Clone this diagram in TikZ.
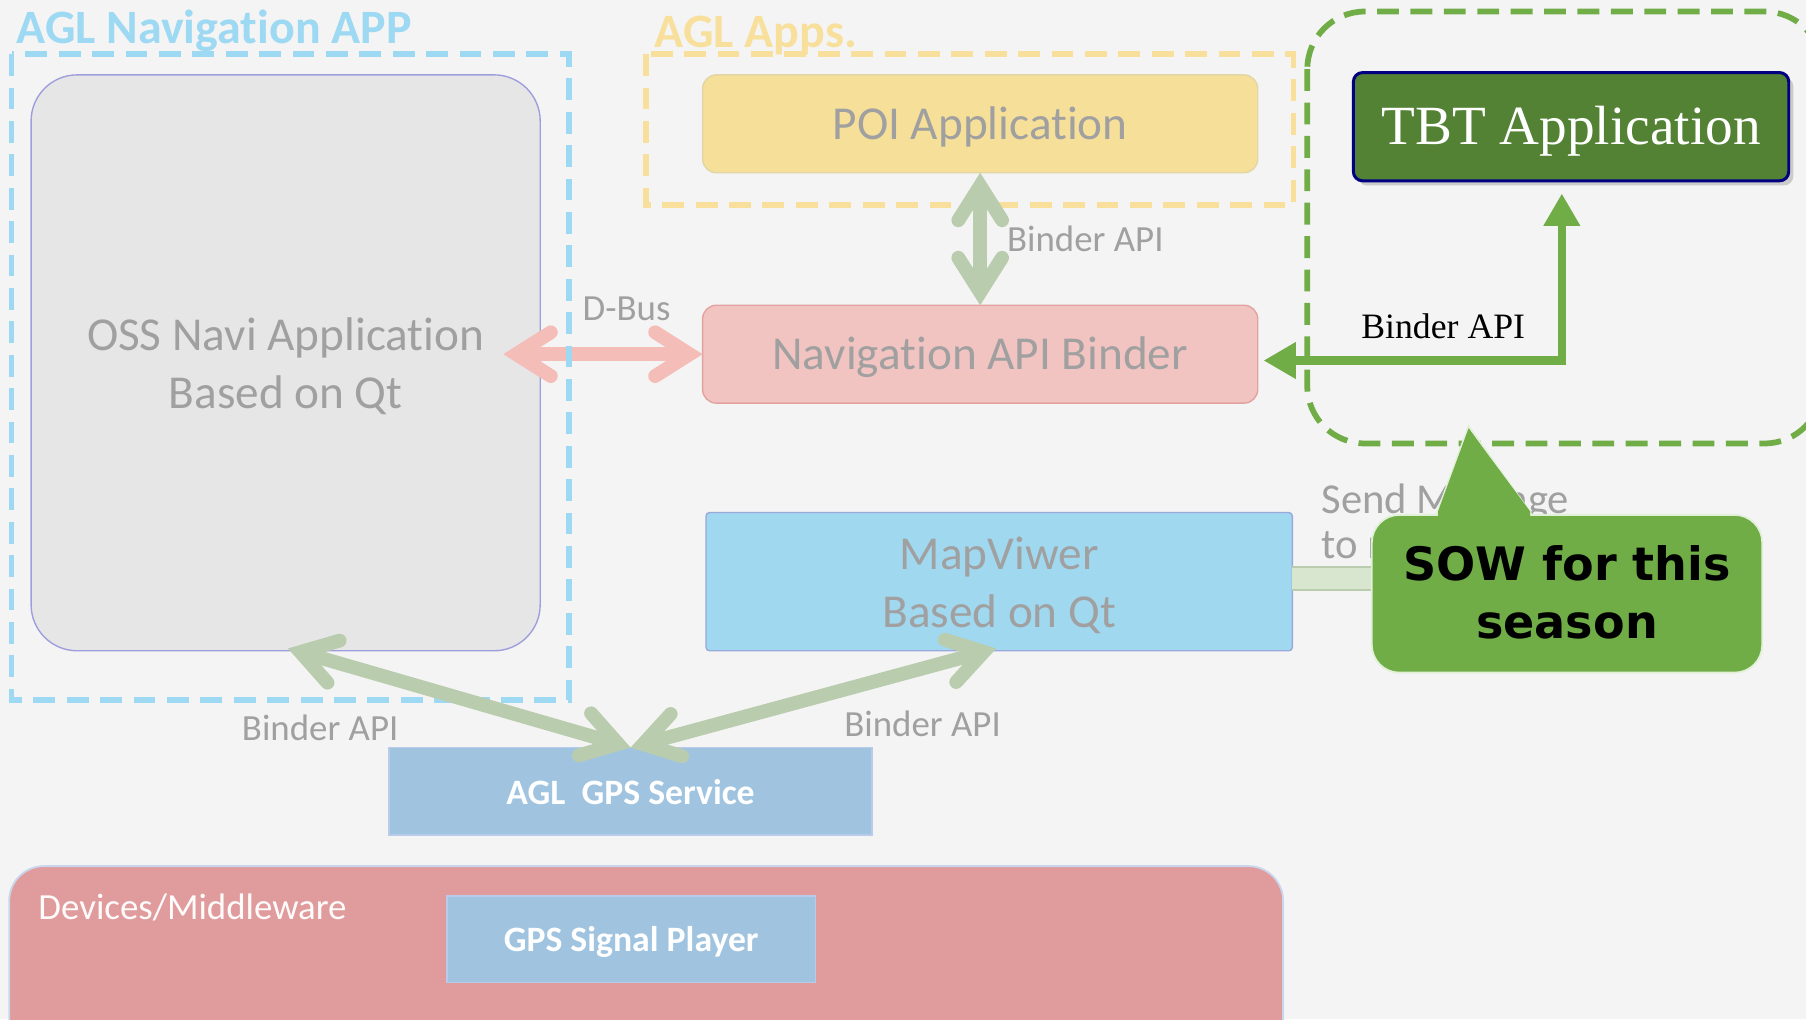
\documentclass[tikz,border=0pt]{standalone}
\usepackage{fontspec}
\setmainfont{Carlito}[Ligatures=NoCommon]
\newfontfamily\serifA{Liberation Serif}
\newfontfamily\dejaB{DejaVu Sans}
\usetikzlibrary{arrows.meta,shadows}
\definecolor{bgc}{HTML}{F4F4F4}
\definecolor{navblue}{HTML}{9DD9F2}
\definecolor{appyel}{HTML}{F8E09C}
\definecolor{poiy}{HTML}{F5DF99}
\definecolor{poib}{HTML}{E2D6A6}
\definecolor{sowg}{HTML}{70AD47}
\definecolor{sowb}{HTML}{E2F0D9}
\definecolor{tbtg}{HTML}{548235}
\definecolor{tbtb}{HTML}{000080}
\definecolor{paleg}{HTML}{B9CCAE}
\definecolor{paleg2}{HTML}{D9E6CF}
\definecolor{pinka}{HTML}{F4BDB8}
\definecolor{navpink}{HTML}{F2C4C1}
\definecolor{navpinkb}{HTML}{E2A2A0}
\definecolor{mapb}{HTML}{A0D8F0}
\definecolor{mapbb}{HTML}{9AA8DC}
\definecolor{gpsb}{HTML}{A0C4DF}
\definecolor{gpsbb}{HTML}{B8CBE8}
\definecolor{devr}{HTML}{E09B9D}
\definecolor{devb}{HTML}{C9D7EE}
\definecolor{txtg}{HTML}{A0A0A0}
\definecolor{ossg}{HTML}{E6E6E6}
\definecolor{ossb}{HTML}{9E9EDD}
\begin{document}
\begin{tikzpicture}[x=0.5pt,y=-0.5pt,
  box/.style={draw, inner sep=0pt, outer sep=0pt},
  boxtxt/.style={inner sep=0pt, align=center, text=txtg, font=\fontsize{20.5}{25}\selectfont},
  solidtxt/.style={inner sep=0pt, align=center, text=white, font=\bfseries\fontsize{15.5}{19}\selectfont},
  fatarrow/.style={line width=6pt, line cap=round, line join=round,
    {Straight Barb[length=15pt,width=19pt,line cap=round]}-{Straight Barb[length=15pt,width=19pt,line cap=round]}},
  grouprect/.style={line width=2.5pt, dash pattern=on 9.5pt off 5pt},
  lbl/.style={text=txtg, inner sep=0pt, font=\fontsize{16}{19}\selectfont},
  title/.style={inner sep=0pt, anchor=base west, font=\bfseries\fontsize{20.8}{25}\selectfont}
]
\useasboundingbox (0,0) rectangle (1568,885);
\clip (0,0) rectangle (1568,885);
\fill[bgc] (0,0) rectangle (1568,885);

% titles
\node[title, text=navblue] (tnav) at (14,38) {AGL Navigation APP};
\node[title, text=appyel] (tapps) at (568,41) {AGL Apps.};

% main boxes
\node[box, fill=ossg, draw=ossb, line width=0.6pt, rounded corners=20pt,
  minimum width=221pt, minimum height=250pt] (oss) at (248,315) {};
\node[boxtxt] (ossT) at ([yshift=-1.5pt]oss.center) {OSS Navi Application\\Based on Qt};
\node[box, fill=poiy, draw=poib, line width=0.6pt, rounded corners=6pt,
  minimum width=241pt, minimum height=42.5pt] (poi) at (851,107.5) {};
\node[boxtxt] (poiT) at ([yshift=-1.5pt]poi.center) {POI Application};
\node[box, fill=navpink, draw=navpinkb, line width=0.6pt, rounded corners=6pt,
  minimum width=241pt, minimum height=42.5pt] (nav) at (851,307.5) {};
\node[boxtxt] (navT) at ([yshift=-1.5pt]nav.center) {Navigation API Binder};
\node[box, fill=mapb, draw=mapbb, line width=0.6pt, rounded corners=1.5pt,
  minimum width=254.5pt, minimum height=60pt] (map) at (867.5,505) {};
\node[boxtxt] (mapT) at ([yshift=-1.5pt]map.center) {MapViwer\\Based on Qt};

% devices
\draw[fill=devr, draw=devb, line width=0.8pt, rounded corners=15pt] (8,752) rectangle (1114,920);
\node[inner sep=0pt, anchor=base west, text=white!96!devr, font=\fontsize{16}{19}\selectfont] (dev) at (33,798) {Devices/Middleware};
\node[box, fill=gpsb, draw=gpsbb, line width=0.8pt, minimum width=160pt, minimum height=37.5pt] (gsp) at (548,815.5) {};
\node[solidtxt] (gspT) at ([yshift=-1.2pt]gsp.center) {GPS Signal Player};
\node[box, fill=gpsb, draw=gpsbb, line width=0.8pt, minimum width=209.5pt, minimum height=38pt] (gps) at (547.5,687) {};
\node[solidtxt] (gpsT) at ([yshift=-0.5pt]gps.center) {AGL\ \ GPS Service};

% D-Bus arrow (under the blue dashed frame)
\coordinate (dbusL) at (437,307.5);
\draw[fatarrow, pinka] (dbusL) -- (nav.west);
\node[lbl] (ldbus) at (544,268) {D-Bus};

% group frames
\draw[grouprect, navblue] (10,47) rectangle (494,608);
\draw[grouprect, appyel] (561,47) rectangle (1123,178);
\draw[grouprect, sowg, rounded corners=25pt] (1135,10) rectangle (1582,385);

% POI <-> Nav
\draw[fatarrow, paleg] (poi.south) -- (nav.north);
\node[lbl, anchor=west] (lpoi) at (874,207) {Binder API};

% GPS arrows
\coordinate (ossB) at (250,563);
\coordinate (mapB) at (865,563);
\draw[fatarrow, paleg] (gps.north) -- (ossB);
\draw[fatarrow, paleg] (gps.north) -- (mapB);
\node[lbl] (lgps1) at (278,632) {Binder API};
\node[lbl] (lgps2) at (801,628) {Binder API};

% TBT
\node[draw=tbtb, line width=1.3pt, fill=tbtg, rounded corners=4pt,
  drop shadow={opacity=0.35, shadow xshift=2pt, shadow yshift=-2pt},
  minimum width=189pt, minimum height=47pt, inner sep=0pt] (tbt) at (1364,110) {};
\node[inner sep=0pt, text=white, font=\serifA\fontsize{24}{28}\selectfont] (tbtT) at ([yshift=-2pt]tbt.center) {TBT Application};
\coordinate (navR) at (1097,313);
\coordinate (tbtB) at (1356,168);
\draw[sowg, line width=3.5pt, {Triangle[length=14pt,width=15pt]}-{Triangle[length=14pt,width=15pt]}] (navR) -| (tbtB);
\node[inner sep=0pt, font=\serifA\fontsize{15.5}{19}\selectfont] (ltbt) at (1253,283) {Binder API};

% Send message (partly hidden)
\node[lbl, anchor=north west, align=left, font=\fontsize{18.5}{19.5}\selectfont] (lsend) at (1147,420) {Send Message\\to map};
\coordinate (barR) at (1250,502);
\draw[paleg, line width=0.8pt, double=paleg2, double distance=9.2pt] (map.east |- barR) -- (barR);

% callout
\fill[sowg] (1247,449) -- (1275,370) -- (1330,449) -- cycle;
\draw[sowb, line width=0.8pt] (1247,447) -- (1275,370) -- (1330,447);
\draw[fill=sowg, draw=sowb, line width=0.8pt, rounded corners=12pt] (1191,447) rectangle (1530,584);
\fill[sowg] (1248.5,444) -- (1275,372) -- (1328.5,444) -- (1328.5,450) -- (1248.5,450) -- cycle;
\node[inner sep=0pt, align=center, font=\dejaB\bfseries\fontsize{20}{25}\selectfont] (sow) at (1360.5,514) {SOW for this\\season};
\end{tikzpicture}
\end{document}
